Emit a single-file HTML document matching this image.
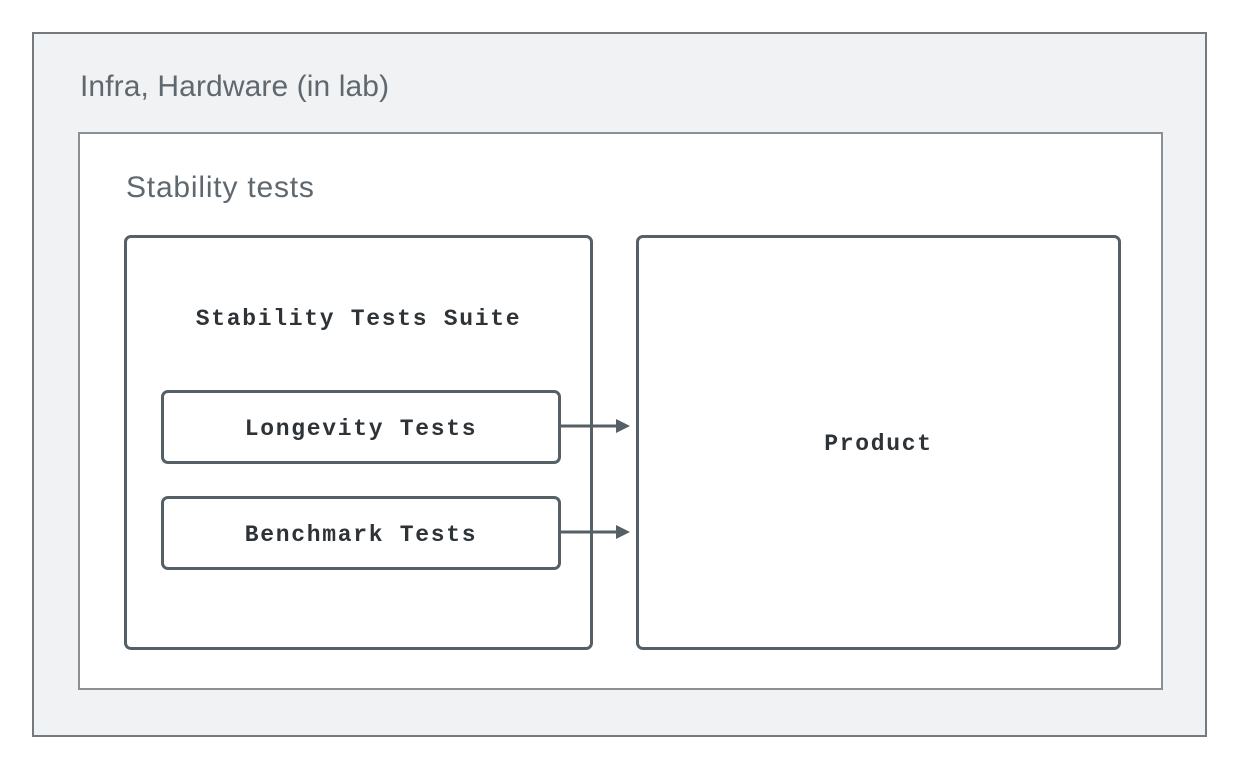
<!DOCTYPE html>
<html><head><meta charset="utf-8"><style>
body{margin:0;width:1239px;height:769px;background:#fff;position:relative;overflow:hidden;font-family:"Liberation Sans",sans-serif}
div{position:absolute;box-sizing:border-box}
.t{color:#5f686e;white-space:nowrap}
.m{font-family:"Liberation Mono",monospace;font-size:23px;color:#2e3337;white-space:nowrap;text-align:center;font-weight:bold;letter-spacing:1.7px}
.b{border:3px solid #555f66;border-radius:7px;background:#fff}
</style></head><body>
<div style="left:32px;top:32px;width:1175px;height:705px;background:#f1f2f4;border:2px solid #737b80"></div>
<div class="t" style="left:80px;top:70px;font-size:30px;letter-spacing:0.1px">Infra, Hardware (in lab)</div>
<div style="left:78px;top:132px;width:1085px;height:558px;background:#fff;border:2px solid #8a9196"></div>
<div class="t" style="left:126px;top:171px;font-size:30px;letter-spacing:0.8px">Stability tests</div>
<div class="b" style="left:124px;top:235px;width:469px;height:415px"></div>
<div class="m" style="left:124px;top:306px;width:469px">Stability Tests Suite</div>
<div class="b" style="left:161px;top:390px;width:400px;height:74px"></div>
<div class="m" style="left:161px;top:416px;width:400px">Longevity Tests</div>
<div class="b" style="left:161px;top:496px;width:400px;height:74px"></div>
<div class="m" style="left:161px;top:522px;width:400px">Benchmark Tests</div>
<div class="b" style="left:636px;top:235px;width:485px;height:415px"></div>
<div class="m" style="left:636px;top:431px;width:485px">Product</div>
<svg style="position:absolute;left:0;top:0" width="1239" height="769">
<g stroke="#555f66" stroke-width="3" fill="#555f66">
<line x1="560" y1="426" x2="618" y2="426"/><polygon points="616,419 630,426 616,433" stroke="none"/>
<line x1="560" y1="532" x2="618" y2="532"/><polygon points="616,525 630,532 616,539" stroke="none"/>
</g></svg>
</body></html>
